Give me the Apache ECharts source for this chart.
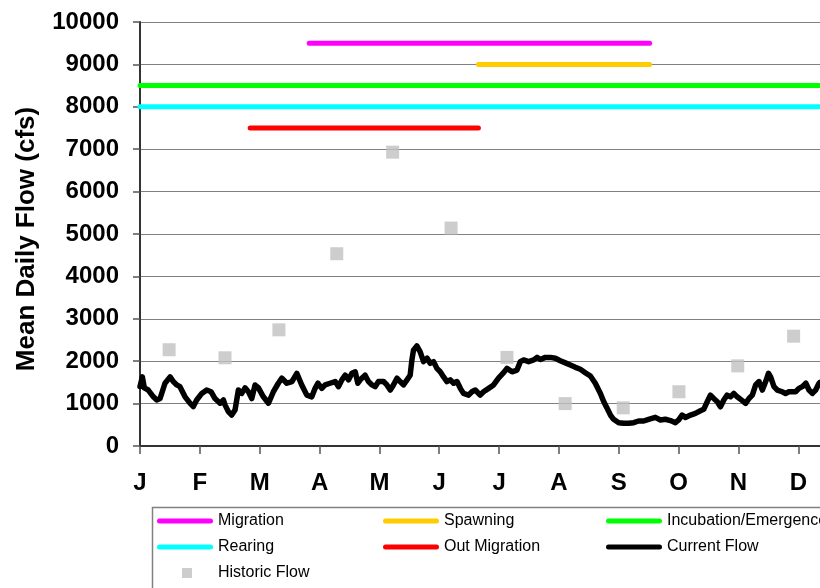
<!DOCTYPE html>
<html><head><meta charset="utf-8">
<script src="https://cdn.jsdelivr.net/npm/echarts@6/dist/echarts.min.js"></script>
<style>html,body{margin:0;padding:0;background:#fff}#c{width:820px;height:588px}</style>
</head><body><div id="c"></div>
<script>
// ---- data ----
const monthLabels = ['J','F','M','A','M','J','J','A','S','O','N','D'];
const xMaxDay = 345.6;
const yMin = 0, yMax = 10000, yStep = 1000;

const stageNames = ['Migration','Spawning','Incubation/Emergence','Rearing','Out Migration'];
const stageLevel = [9500, 9000, 8500, 8000, 7500];
const stageStart = [86, 172, 0, 0, 56];
const stageEnd   = [259, 259, 345.6, 345.6, 172];

const historicDay = [14.8, 43.2, 70.6, 100.0, 128.4, 158.1, 186.5, 216.1, 245.6, 273.9, 303.8, 332.2];
const historicCfs = [2270, 2080, 2740, 4535, 6930, 5140, 2090, 1000, 900, 1280, 1890, 2590];

const flowDay = [
 0,1.2,2.2,4.2,6.8,8.5,10.2,12.7,15.3,16.9,
 18.7,20.3,22.9,25.4,27.1,28.8,31.4,33.9,36.1,38.1,
 40.7,42.4,43.2,44.9,46.6,48.3,50.0,51.7,53.4,55.1,
 56.8,58.5,60.2,62.7,65.3,67.8,70.3,72.1,74.6,77.2,
 79.7,82.2,84.8,87.3,89.0,90.4,92.4,94.1,96.6,99.2,
 100.9,102.6,104.3,106.0,107.7,109.4,110.7,111.9,114.4,116.1,
 117.9,119.5,121.2,123.8,125.5,127.2,128.8,130.6,132.2,133.9,
 135.7,137.3,138.2,139.0,140.7,142.4,144.1,145.9,147.5,149.2,
 150.9,152.6,154.3,156.0,157.7,159.4,161.1,162.8,164.4,167.0,
 168.7,170.4,172.9,174.6,177.2,179.7,182.2,184.8,186.5,189.1,
 191.6,193.3,195.0,197.5,200.1,201.8,203.5,206.0,208.5,211.1,
 213.6,216.2,218.7,221.3,223.8,226.3,228.9,231.4,234.0,235.7,
 237.4,239.1,240.7,243.3,245.8,248.4,250.9,253.4,256.0,258.5,
 259.4,261.9,264.5,267.0,269.6,272.1,273.8,275.5,277.2,279.8,
 282.3,284.8,286.5,288.3,289.9,291.6,293.4,295.0,296.7,298.4,
 300.1,301.8,303.5,306.1,307.8,309.5,311.2,312.9,314.6,316.3,
 318.0,319.4,320.5,322.2,323.9,326.4,328.1,329.8,331.5,333.2,
 334.9,336.6,338.4,340.0,341.7,343.4,345.1,345.6
];
const flowCfs = [
 1400,1630,1370,1320,1160,1085,1120,1480,1630,1520,
 1440,1400,1160,1010,930,1085,1240,1320,1280,1120,
 1010,1085,970,810,730,850,1320,1240,1370,1280,
 1120,1440,1370,1160,1010,1280,1480,1600,1480,1520,
 1715,1440,1200,1160,1360,1480,1360,1440,1480,1520,
 1400,1560,1670,1560,1715,1750,1480,1560,1670,1520,
 1440,1400,1520,1520,1440,1320,1440,1600,1520,1440,
 1560,1670,2030,2260,2360,2220,1990,2070,1950,1990,
 1830,1750,1630,1520,1560,1480,1520,1360,1240,1200,
 1280,1320,1200,1280,1360,1440,1600,1730,1830,1750,
 1790,1990,2030,1990,2030,2090,2040,2090,2090,2070,
 2010,1960,1910,1855,1810,1730,1650,1480,1240,1045,
 890,730,630,550,535,535,550,590,590,630,
 650,675,615,630,600,550,615,730,675,730,
 770,830,865,1045,1200,1120,1045,925,1085,1200,
 1160,1240,1160,1070,1005,1120,1200,1440,1520,1320,
 1520,1715,1630,1400,1320,1280,1240,1280,1280,1280,
 1360,1400,1480,1320,1240,1320,1480,1500
];

// ---- styles ----
const FONT = "'Liberation Sans', Arial, sans-serif";
const stageColors = ['#FF00FF', '#FFCC00', '#00FF00', '#00FFFF', '#FF0000'];
const monthLen = 365 / 12;
const monthTicks = monthLabels.map((m, i) => i * monthLen);

const series = stageNames.map((name, i) => ({
  name, type: 'line', color: stageColors[i], showSymbol: false, symbol: 'none',
  clip: false, z: 3,
  lineStyle: { width: 5, cap: 'round', color: stageColors[i] },
  data: [[stageStart[i], stageLevel[i]], [stageEnd[i], stageLevel[i]]]
}));
series.push({
  name: 'Current Flow', type: 'line', color: '#000', showSymbol: false, symbol: 'none', z: 4,
  lineStyle: { width: 5.5, cap: 'round', join: 'round', color: '#000' },
  data: flowDay.map((d, i) => [d, flowCfs[i]])
});
series.push({
  name: 'Historic Flow', type: 'scatter', symbol: 'rect', symbolSize: 13, z: 5,
  itemStyle: { color: '#C0C0C0' },
  data: historicDay.map((d, i) => [d, historicCfs[i]])
});

const lineIcon = 'path://M2.5,0H53.5A2.5,2.5,0,0,1,53.5,5H2.5A2.5,2.5,0,0,1,2.5,0Z';
const sqIcon = 'path://M0,0M56,10M25,0H35V10H25Z';
const colorOf = n => n === 'Current Flow' ? '#000' : n === 'Historic Flow' ? '#C0C0C0' : stageColors[stageNames.indexOf(n)];
function legendCol(left, names) {
  return {
    orient: 'vertical', left, top: 513, padding: 0, itemGap: 10,
    itemWidth: 56, itemHeight: 10, selectedMode: false,
    textStyle: { fontFamily: FONT, fontSize: 16, lineHeight: 16, color: '#000' },
    data: names.map(n => ({ name: n, icon: n === 'Historic Flow' ? sqIcon : lineIcon,
      itemStyle: { color: colorOf(n), borderWidth: 0 } }))
  };
}

const chart = echarts.init(document.getElementById('c'), null, { renderer: 'canvas' });
chart.setOption({
  animation: false,
  backgroundColor: '#fff',
  grid: { left: 140, right: 0, top: 22, bottom: 142, containLabel: false, outerBoundsMode: 'none' },
  xAxis: {
    type: 'value', min: 0, max: xMaxDay,
    axisLine: { show: true, onZero: false, lineStyle: { color: '#333', width: 2 } },
    axisTick: { show: true, length: 8, lineStyle: { color: '#555', width: 1.5 }, customValues: monthTicks },
    axisLabel: {
      customValues: monthTicks, margin: 25,
      formatter: v => monthLabels[Math.round(v / monthLen)] || '',
      fontFamily: FONT, fontSize: 24, fontWeight: 'bold', color: '#000'
    },
    splitLine: { show: false }
  },
  yAxis: {
    type: 'value', min: yMin, max: yMax, interval: yStep,
    name: 'Mean Daily Flow (cfs)', nameLocation: 'middle', nameGap: 100, nameRotate: 90,
    nameTextStyle: { fontFamily: FONT, fontSize: 26, fontWeight: 'bold', color: '#000', padding: [0, 10, 0, 0] },
    axisLine: { show: true, lineStyle: { color: '#333', width: 2 } },
    axisTick: { show: true, length: 7, lineStyle: { color: '#555', width: 1.5 } },
    axisLabel: { margin: 21, fontFamily: FONT, fontSize: 24, fontWeight: 'bold', color: '#000',
      formatter: v => String(v) },
    splitLine: { show: true, lineStyle: { color: '#808080', width: 1 } }
  },
  legend: [
    legendCol(157, ['Migration', 'Rearing', 'Historic Flow']),
    legendCol(383, ['Spawning', 'Out Migration']),
    legendCol(606, ['Incubation/Emergence', 'Current Flow'])
  ],
  graphic: [{
    type: 'rect', shape: { x: 152.5, y: 507.5, width: 720, height: 120 },
    style: { fill: 'none', stroke: '#808080', lineWidth: 1.5 }, z: -1
  }],
  series
});
</script></body></html>
